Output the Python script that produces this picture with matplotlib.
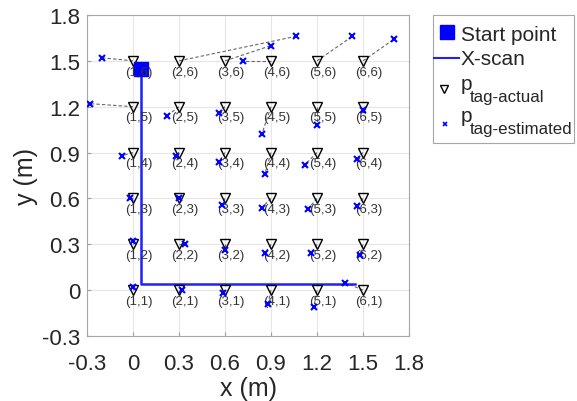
import numpy as np
import matplotlib
matplotlib.use('Agg')
import matplotlib.pyplot as plt
from matplotlib.lines import Line2D
from matplotlib.patches import Rectangle

plt.rcParams['font.family'] = ['Liberation Sans', 'DejaVu Sans']

# actual tag grid (columns i, rows j)
tag_x = [0.0, 0.3, 0.6, 0.9, 1.2, 1.5]
tag_y = [0.0, 0.3, 0.6, 0.9, 1.2, 1.5]

# estimated tag positions, rows j = 1..6, columns i = 1..6
est_x = [
    [0.00, 0.32, 0.59, 0.88, 1.18, 1.38],
    [0.00, 0.34, 0.60, 0.86, 1.16, 1.48],
    [-0.02, 0.30, 0.58, 0.84, 1.14, 1.46],
    [-0.07, 0.28, 0.56, 0.86, 1.12, 1.46],
    [-0.28, 0.22, 0.56, 0.84, 1.20, 1.50],
    [-0.20, 1.06, 0.90, 0.72, 1.43, 1.70],
]
est_y = [
    [0.02, 0.00, -0.02, -0.09, -0.11, 0.05],
    [0.32, 0.30, 0.26, 0.24, 0.24, 0.23],
    [0.60, 0.60, 0.56, 0.54, 0.53, 0.55],
    [0.88, 0.88, 0.84, 0.76, 0.82, 0.86],
    [1.22, 1.14, 1.16, 1.02, 1.08, 1.18],
    [1.52, 1.66, 1.60, 1.50, 1.66, 1.64],
]

start_point = (0.05, 1.45)
scan_x = [0.05, 0.05, 1.45]
scan_y = [1.45, 0.04, 0.04]

ticks = [-0.3, 0, 0.3, 0.6, 0.9, 1.2, 1.5, 1.8]
tick_labels = ['-0.3', '0', '0.3', '0.6', '0.9', '1.2', '1.5', '1.8']

W, H = 577, 402
fig = plt.figure(figsize=(W / 100, H / 100), dpi=100)
ax = fig.add_axes([87 / W, 1 - 337 / H, 322 / W, 321 / H])

txt_col = '#262626'
blue = '#2020ff'

# dashed links actual -> estimated
for j, ty in enumerate(tag_y):
    for i, tx in enumerate(tag_x):
        ax.plot([tx, est_x[j][i]], [ty, est_y[j][i]], ls=(0, (3, 2)),
                color='#666666', lw=0.8, zorder=2)

gx, gy = np.meshgrid(tag_x, tag_y)
ex = np.array(est_x)
ey = np.array(est_y)

ax.plot(scan_x, scan_y, color=blue, lw=1.8, zorder=3)
ax.plot(start_point[0], start_point[1], 's', color='#0000ff', ms=10, zorder=4)
ax.plot(gx.ravel(), gy.ravel(), 'v', mfc='none', mec='black', ms=7.5,
        mew=1.0, linestyle='none', zorder=3)
ax.plot(ex.ravel(), ey.ravel(), 'x', color='#0000ff', ms=5, mew=1.5,
        linestyle='none', zorder=5)

for j, ty in enumerate(tag_y):
    for i, tx in enumerate(tag_x):
        ax.text(tx + 0.04, ty - 0.07, '(%d,%d)' % (i + 1, j + 1),
                ha='center', va='center', fontsize=9.5, color='#333333',
                zorder=4)

ax.set_xlim(-0.3, 1.8)
ax.set_ylim(-0.3, 1.8)
ax.set_xticks(ticks)
ax.set_xticklabels(tick_labels)
ax.set_yticks(ticks)
ax.set_yticklabels(tick_labels)
ax.tick_params(direction='in', length=3, color='#a0a0a0', labelsize=16,
               labelcolor=txt_col)
ax.tick_params(axis='x', pad=12)
ax.tick_params(axis='y', pad=5)
ax.grid(True, color='#e6e6e6', lw=0.8, zorder=0)
ax.set_axisbelow(True)
for s in ax.spines.values():
    s.set_color('#a6a6a6')
    s.set_linewidth(0.8)

ax.set_xlabel('x (m)', fontsize=18, color=txt_col, labelpad=1.5)
ax.set_ylabel('y (m)', fontsize=18, color=txt_col, labelpad=3)

# legend box (drawn by hand so the subscripts can keep MATLAB-like size)
def fx(px):
    return px / W

def fy(py):
    return 1 - py / H

fig.patches.append(Rectangle((fx(433), fy(144)), fx(574) - fx(433),
                             fy(16) - fy(144), transform=fig.transFigure,
                             facecolor='white', edgecolor='#a6a6a6', lw=0.8))
fig.lines.append(Line2D([fx(447)], [fy(32.7)], marker='s', color='#0000ff',
                        ms=10, ls='none', transform=fig.transFigure))
fig.lines.append(Line2D([fx(434), fx(459)], [fy(59.3), fy(59.3)], color=blue,
                        lw=1.5, transform=fig.transFigure))
fig.lines.append(Line2D([fx(443.5)], [fy(90)], marker='v', mfc='none',
                        mec='black', ms=5.5, mew=1.0, ls='none',
                        transform=fig.transFigure))
fig.lines.append(Line2D([fx(445)], [fy(125)], marker='x', color='#0000ff',
                        ms=3.5, mew=1.2, ls='none', transform=fig.transFigure))

leg_items = [('Start point', None, 40.7), ('X-scan', None, 65),
             ('p', 'tag-actual', 90), ('p', 'tag-estimated', 121.7)]
for main, sub, base in leg_items:
    fig.text(fx(461), fy(base), main, fontsize=15, color=txt_col,
             va='baseline', ha='left')
    if sub:
        fig.text(fx(469.5), fy(base + 12), sub, fontsize=12.2,
                 color=txt_col, va='baseline', ha='left')

fig.savefig('out.png', dpi=100)
